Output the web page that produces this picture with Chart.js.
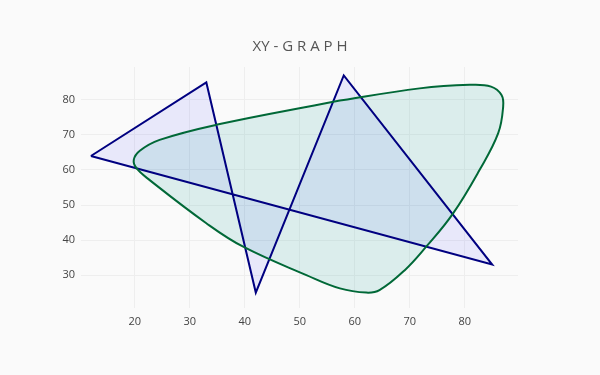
<!DOCTYPE html>
<html>
<head>
<meta charset="utf-8">
<script src="https://cdn.jsdelivr.net/npm/chart.js@4"></script>
<style>
  html, body { margin: 0; padding: 0; background: #fafafa; }
  #wrap { width: 600px; height: 375px; }
</style>
</head>
<body>
<div id="wrap"><canvas id="chart"></canvas></div>
<script>
// navy polygon (closed by repeating the first vertex)
const polyX = [12, 33, 42, 58, 85, 12]
const polyY = [64, 85, 25, 87, 33, 64]

// green smooth loop (starts mid top edge so the seam sits on a flat part)
const loopX = [56.1, 71.8, 80.9, 84.8, 86.7, 87.0, 86.1, 82.7, 77.8, 73.0, 69.1, 64.5, 62.1, 57.3, 51.2, 39.7, 33.0, 22.7, 20.3, 19.8, 20.9, 24.5, 34.8, 56.1]
const loopY = [79.5, 83.3, 84.3, 83.8, 81.4, 78.1, 70.5, 60.0, 47.4, 38.1, 31.4, 25.7, 25.0, 26.2, 30.0, 38.1, 44.8, 57.1, 60.5, 62.9, 65.5, 68.6, 72.9, 79.5]

const xTicks = [20, 30, 40, 50, 60, 70, 80]
const yTicks = [30, 40, 50, 60, 70, 80]

const toPoints = (xs, ys) => xs.map((x, i) => ({ x, y: ys[i] }))

const tickFont = { family: "'Open Sans', sans-serif", size: 11 }

new Chart(document.getElementById("chart"), {
  type: "scatter",
  data: {
    datasets: [
      {
        label: "loop",
        data: toPoints(loopX, loopY),
        showLine: true,
        borderColor: "#006837",
        borderWidth: 2,
        backgroundColor: "rgba(0, 150, 136, 0.12)",
        fill: "shape",
        tension: 0.4,
        pointRadius: 0,
        order: 0,
      },
      {
        label: "polygon",
        data: toPoints(polyX, polyY),
        showLine: true,
        borderColor: "#000080",
        borderWidth: 2,
        borderJoinStyle: "miter",
        backgroundColor: "rgba(0, 0, 255, 0.07)",
        fill: "shape",
        tension: 0,
        pointRadius: 0,
        order: 1,
      },
    ],
  },
  options: {
    responsive: true,
    maintainAspectRatio: false,
    animation: false,
    events: [],
    layout: { padding: { top: 38, right: 0, bottom: 0, left: 0 } },
    plugins: {
      legend: { display: false },
      tooltip: { enabled: false },
      filler: { drawTime: "beforeDatasetsDraw" },
      title: {
        display: true,
        text: "XY - G R A P H",
        color: "#555",
        font: { family: "'Open Sans', sans-serif", size: 15, weight: "normal" },
        padding: { top: 0, bottom: 11 },
      },
    },
    scales: {
      x: {
        type: "linear",
        min: 10.2,
        max: 89.7,
        afterBuildTicks: (s) => { s.ticks = xTicks.map((v) => ({ value: v })) },
        afterFit: (s) => { s.height = 67 },
        border: { display: false },
        grid: { color: "#eeeeee", drawTicks: false },
        ticks: { color: "#444", font: tickFont, padding: 7 },
      },
      y: {
        type: "linear",
        min: 20.6,
        max: 89.4,
        afterBuildTicks: (s) => { s.ticks = yTicks.map((v) => ({ value: v })) },
        afterFit: (s) => { s.width = 81 },
        border: { display: false },
        grid: { color: "#eeeeee", drawTicks: false },
        ticks: { color: "#444", font: tickFont, padding: 6 },
      },
      // empty right-hand margin so the title centres on the whole canvas
      yPad: {
        type: "linear",
        position: "right",
        afterFit: (s) => { s.width = 82 },
        border: { display: false },
        grid: { display: false },
        ticks: { display: false },
      },
    },
  },
})
</script>
</body>
</html>
